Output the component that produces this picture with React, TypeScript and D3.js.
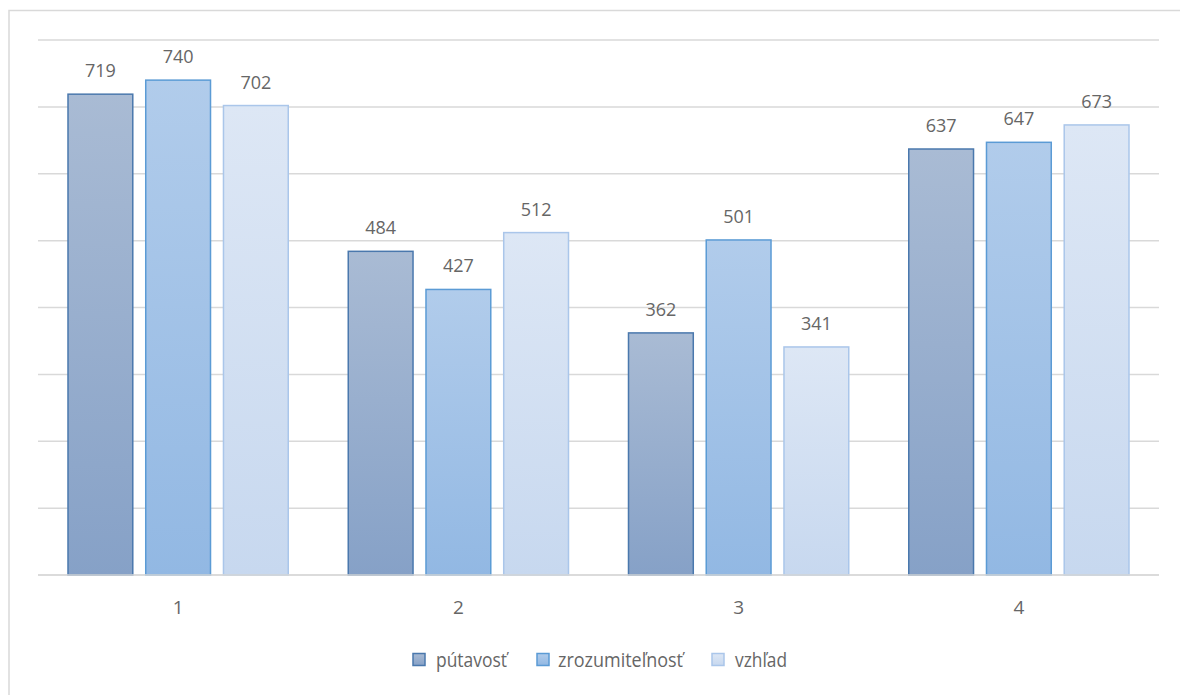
import React from "react";
import * as d3 from "d3";

// Categories and series values
const categories = ["1", "2", "3", "4"];
const seriesNames = ["pútavosť", "zrozumiteľnosť", "vzhľad"];
const putavost = [719, 484, 362, 637];
const zrozumitelnost = [740, 427, 501, 647];
const vzhlad = [702, 512, 341, 673];
const yTicks = [0, 100, 200, 300, 400, 500, 600, 700, 800];

const seriesValues = [putavost, zrozumitelnost, vzhlad];

const palette = [
  { top: "#a9bbd4", bottom: "#86a1c7", stroke: "#4a78ad" },
  { top: "#b1cceb", bottom: "#92b8e3", stroke: "#5b9bd5" },
  { top: "#dde7f5", bottom: "#c7d8ef", stroke: "#aac6ea" },
];

const W = 1180;
const H = 695;
const plot = { left: 38, right: 1159, top: 40, bottom: 575 };

export default function App() {
  const x0 = d3
    .scaleBand<string>()
    .domain(categories)
    .range([plot.left, plot.right])
    .paddingInner(0)
    .paddingOuter(0);
  const groupPad = 30;
  const x1 = d3
    .scaleBand<number>()
    .domain([0, 1, 2])
    .range([groupPad, x0.bandwidth() - groupPad])
    .paddingInner(13 / 78);
  const y = d3.scaleLinear().domain([0, 800]).range([plot.bottom, plot.top]);

  const numFont = "'Open Sans', 'Noto Sans', sans-serif";
  const legendFont = "'Open Sans', 'Noto Sans', sans-serif";

  // legend swatch x, text x, text width
  const legendItems = [
    { sx: 413, tx: 436, tw: 71 },
    { sx: 537, tx: 558, tw: 125 },
    { sx: 712, tx: 735, tw: 52 },
  ];

  return (
    <svg
      width={W}
      height={H}
      style={{ display: "block", position: "absolute", left: 0, top: 0 }}
    >
      <rect x={0} y={0} width={W} height={H} fill="#fff" />
      {/* chart frame: top and left edges, the rest runs past the view */}
      <path d={`M9,${H + 5} V10.5 H${W + 5}`} fill="none" stroke="#d9d9d9" strokeWidth={1.5} />

      <defs>
        {palette.map((p, i) => (
          <linearGradient key={i} id={`grad${i}`} x1="0" y1="0" x2="0" y2="1">
            <stop offset="0%" stopColor={p.top} />
            <stop offset="100%" stopColor={p.bottom} />
          </linearGradient>
        ))}
      </defs>

      {/* horizontal gridlines */}
      {yTicks.map((t) => (
        <line
          key={t}
          x1={plot.left}
          x2={plot.right}
          y1={y(t)}
          y2={y(t)}
          stroke="#d9d9d9"
          strokeWidth={1.5}
        />
      ))}

      {/* bars */}
      {categories.map((c, ci) => (
        <g key={c} transform={`translate(${x0(c)},0)`}>
          {seriesValues.map((vals, si) => {
            const v = vals[ci];
            const bx = x1(si)!;
            const bw = x1.bandwidth();
            return (
              <g key={si}>
                <rect
                  x={bx}
                  y={y(v)}
                  width={bw}
                  height={y(0) - y(v)}
                  fill={`url(#grad${si})`}
                  stroke={palette[si].stroke}
                  strokeWidth={1.5}
                />
                <text
                  x={bx + bw / 2}
                  y={y(v) - 17}
                  textAnchor="middle"
                  fontFamily={numFont}
                  fontSize={18}
                  fill="#666666"
                >
                  {v}
                </text>
              </g>
            );
          })}
        </g>
      ))}

      {/* baseline */}
      <line x1={plot.left} x2={plot.right} y1={y(0)} y2={y(0)} stroke="#d9d9d9" strokeWidth={1.5} />

      {/* category labels */}
      {categories.map((c) => (
        <text
          key={c}
          x={x0(c)! + x0.bandwidth() / 2}
          y={614}
          textAnchor="middle"
          fontFamily={numFont}
          fontSize={19}
          fill="#666666"
        >
          {c}
        </text>
      ))}

      {/* legend */}
      {seriesNames.map((name, i) => (
        <g key={name}>
          <rect
            x={legendItems[i].sx}
            y={653.5}
            width={12}
            height={12}
            fill={`url(#grad${i})`}
            stroke={palette[i].stroke}
            strokeWidth={1.5}
          />
          <text
            x={legendItems[i].tx}
            y={667}
            fontFamily={legendFont}
            fontSize={20}
            fill="#666666"
            textLength={legendItems[i].tw}
            lengthAdjust="spacingAndGlyphs"
          >
            {name}
          </text>
        </g>
      ))}
    </svg>
  );
}
